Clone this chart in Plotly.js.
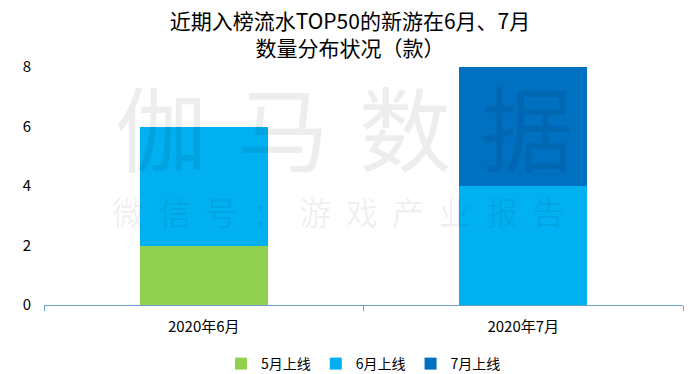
<!DOCTYPE html>
<html><head><meta charset="utf-8">
<script src="https://cdn.plot.ly/plotly-3.0.1.min.js"></script>
<style>body{margin:0;background:#fff}#chart{width:700px;height:374px}</style>
</head><body><div id="chart"></div>
<script>
const categories = ['2020年6月', '2020年7月'];
const seriesNames = ['5月上线', '6月上线', '7月上线'];
const may = [2, 0];
const june = [4, 4];
const july = [0, 4];
const yTicks = [0, 2, 4, 6, 8];
const colors = ['#92D050', '#00B0F0', '#0070C0'];
const font = 'Noto Sans CJK SC, Noto Sans, sans-serif';
const watermark1 = '伽马数据';
const watermark2 = '微信号：游戏产业报告';

const data = [may, june, july].map((vals, i) => ({
  type: 'bar', name: seriesNames[i], x: categories, y: vals,
  marker: {color: colors[i]}, hoverinfo: 'none'
}));

// plot area: x 44..683 px, y 67..305 px
const px = x => (x - 44) / 639;
const py = y => (305 - y) / 238;
const annotations = [];
watermark1.split('').forEach((c, i) => annotations.push({
  xref: 'paper', yref: 'paper', x: px(161 + i * 122), y: py(124), xanchor: 'center', yanchor: 'middle',
  text: c, showarrow: false, font: {family: font, size: 92, color: 'rgba(0,0,0,0.07)'}
}));
watermark2.split('').forEach((c, i) => annotations.push({
  xref: 'paper', yref: 'paper', x: px(128 + i * 46.7), y: py(211), xanchor: 'center', yanchor: 'middle',
  text: c, showarrow: false, font: {family: font, size: 32, color: 'rgba(0,0,0,0.07)'}
}));

const layout = {
  width: 700, height: 374,
  margin: {l: 44, r: 17, t: 67, b: 69},
  paper_bgcolor: '#fff', plot_bgcolor: '#fff',
  font: {family: font, size: 13, color: '#000'},
  title: {text: '近期入榜流水TOP50的新游在6月、7月<br>数量分布状况（款）', x: 0.5, xanchor: 'center',
          yref: 'container', y: 1 - 29 / 374, yanchor: 'middle', font: {size: 21, color: '#000'}},
  barmode: 'stack', bargap: 0.6,
  showlegend: true,
  legend: {orientation: 'h', x: 0.5, xanchor: 'center', yref: 'container', y: 10 / 374, yanchor: 'middle',
           font: {size: 14}, traceorder: 'normal', itemwidth: 30},
  xaxis: {showline: true, linecolor: '#6a9fcf', linewidth: 1, ticks: 'outside', tickson: 'boundaries', ticklen: 5,
          tickcolor: '#6a9fcf', showgrid: false, ticklabelstandoff: 8, tickfont: {size: 15}, automargin: false},
  yaxis: {range: [0, 8], tickvals: yTicks, showgrid: false, zeroline: false, showline: false,
          tickfont: {size: 15}, ticklabelstandoff: 12, automargin: false},
  annotations: annotations
};
Plotly.newPlot('chart', data, layout, {staticPlot: true});
</script></body></html>
